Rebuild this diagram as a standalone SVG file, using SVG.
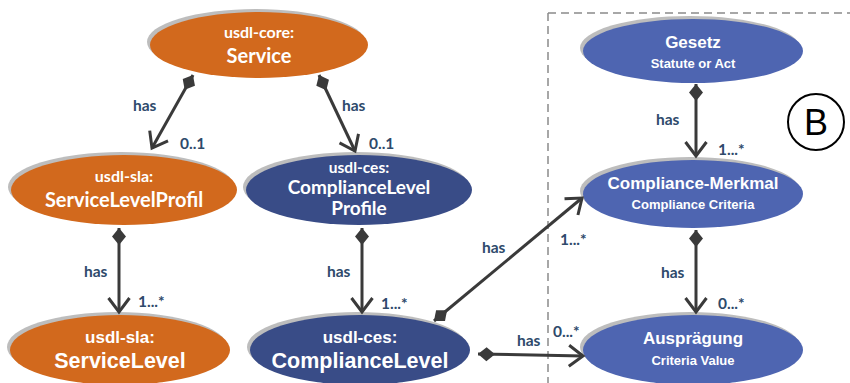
<svg xmlns="http://www.w3.org/2000/svg" width="850" height="383" viewBox="0 0 850 383">
<style>
.sh{fill:#bdbdbd}
.or{fill:#D2691D}
.db{fill:#394C87}
.lb{fill:#4E65B1}
.t1{font-family:Lato,"Open Sans",sans-serif;font-weight:bold;fill:#fff;text-anchor:middle}
.t2{font-family:"Liberation Sans",Arial,sans-serif;font-weight:bold;fill:#fff;text-anchor:middle}
.lab{font-family:Lato,"Open Sans",sans-serif;font-weight:bold;font-size:15.5px;fill:#2E4A6B}
.con{stroke:#3a3a3a;stroke-width:3;fill:none;marker-start:url(#dia);marker-end:url(#arr)}
</style>
<defs>
<marker id="dia" markerUnits="userSpaceOnUse" markerWidth="20" markerHeight="16" viewBox="-1 -8 20 16" refX="0" refY="0" orient="auto">
<path d="M0,0 L8.5,-7 L17,0 L8.5,7 z" fill="#3a3a3a"/>
</marker>
<marker id="arr" markerUnits="userSpaceOnUse" markerWidth="30" markerHeight="30" viewBox="-15 -15 30 30" refX="0" refY="0" orient="auto" overflow="visible">
<path d="M-14,-10.5 L0,0 L-14,10.5" fill="none" stroke="#3a3a3a" stroke-width="3" stroke-linejoin="miter"/>
</marker>
</defs>

<path d="M548,13 L850,13 M548,13 L548,383" fill="none" stroke="#8a8a8a" stroke-width="1.5" stroke-dasharray="8,5"/>

<g id="service">
<ellipse class="sh" cx="256" cy="42" rx="109" ry="33"/>
<ellipse class="or" cx="259" cy="45" rx="109" ry="33"/>
<text class="t1" x="259" y="38" font-size="16">usdl-core:</text>
<text class="t1" x="259" y="63" font-size="20">Service</text>
</g>

<g id="servicelevelprofil">
<ellipse class="sh" cx="121" cy="187" rx="113" ry="35"/>
<ellipse class="or" cx="124" cy="190" rx="113" ry="35"/>
<text class="t1" x="124" y="182" font-size="16">usdl-sla:</text>
<text class="t1" x="124" y="207" font-size="20">ServiceLevelProfil</text>
</g>

<g id="compliancelevelprofile">
<ellipse class="sh" cx="356" cy="187" rx="113" ry="35"/>
<ellipse class="db" cx="359" cy="190" rx="113" ry="35"/>
<text class="t1" x="359" y="173" font-size="15.5">usdl-ces:</text>
<text class="t1" x="359" y="194" font-size="19">ComplianceLevel</text>
<text class="t1" x="359" y="215" font-size="19">Profile</text>
</g>

<g id="servicelevel">
<ellipse class="sh" cx="117" cy="347" rx="110" ry="35"/>
<ellipse class="or" cx="120" cy="350" rx="110" ry="35"/>
<text class="t2" x="120" y="343" font-size="17">usdl-sla:</text>
<text class="t2" x="120" y="368" font-size="21.5">ServiceLevel</text>
</g>

<g id="compliancelevel">
<ellipse class="sh" cx="357" cy="347" rx="110" ry="35"/>
<ellipse class="db" cx="360" cy="350" rx="110" ry="35"/>
<text class="t2" x="360" y="343" font-size="17">usdl-ces:</text>
<text class="t2" x="360" y="368" font-size="21.5">ComplianceLevel</text>
</g>

<g id="gesetz">
<ellipse class="sh" cx="690" cy="48" rx="110" ry="32"/>
<ellipse class="lb" cx="693" cy="51" rx="110" ry="32"/>
<text class="t2" x="693" y="48" font-size="17">Gesetz</text>
<text class="t2" x="693" y="68" font-size="13">Statute or Act</text>
</g>

<g id="compliance-merkmal">
<ellipse class="sh" cx="690" cy="191" rx="110" ry="34"/>
<ellipse class="lb" cx="693" cy="194" rx="110" ry="34"/>
<text class="t2" x="693" y="189" font-size="17">Compliance-Merkmal</text>
<text class="t2" x="693" y="209" font-size="13">Compliance Criteria</text>
</g>

<g id="auspraegung">
<ellipse class="sh" cx="690" cy="347" rx="110" ry="35"/>
<ellipse class="lb" cx="693" cy="350" rx="110" ry="35"/>
<text class="t2" x="693" y="344" font-size="17">Ausprägung</text>
<text class="t2" x="693" y="365" font-size="13">Criteria Value</text>
</g>

<g id="connectors">
<path class="con" d="M193,75 L152,148"/>
<path class="con" d="M319,75 L355,151"/>
<path class="con" d="M119,228 L119,312"/>
<path class="con" d="M362,228 L362,312"/>
<path class="con" d="M434,321 L582,198"/>
<path class="con" d="M478,354 L583,356"/>
<path class="con" d="M696,84 L696,156"/>
<path class="con" d="M696,230 L696,312"/>
</g>

<g id="labels">
<text class="lab" x="133" y="111">has</text>
<text class="lab" x="180" y="149">0..1</text>
<text class="lab" x="342" y="111">has</text>
<text class="lab" x="369" y="149">0..1</text>
<text class="lab" x="84" y="277">has</text>
<text class="lab" x="138" y="307">1...*</text>
<text class="lab" x="327" y="277">has</text>
<text class="lab" x="381" y="309">1...*</text>
<text class="lab" x="482" y="253">has</text>
<text class="lab" x="560" y="245">1...*</text>
<text class="lab" x="517" y="346">has</text>
<text class="lab" x="553" y="337">0...*</text>
<text class="lab" x="656" y="125">has</text>
<text class="lab" x="718" y="155">1...*</text>
<text class="lab" x="661" y="278">has</text>
<text class="lab" x="718" y="309">0...*</text>
</g>

<g id="b-marker">
<circle cx="816" cy="122" r="28" fill="#fff" stroke="#000" stroke-width="2"/>
<text x="816" y="135" font-family="'Liberation Sans',Arial,sans-serif" font-size="36" text-anchor="middle" fill="#000">B</text>
</g>
</svg>
